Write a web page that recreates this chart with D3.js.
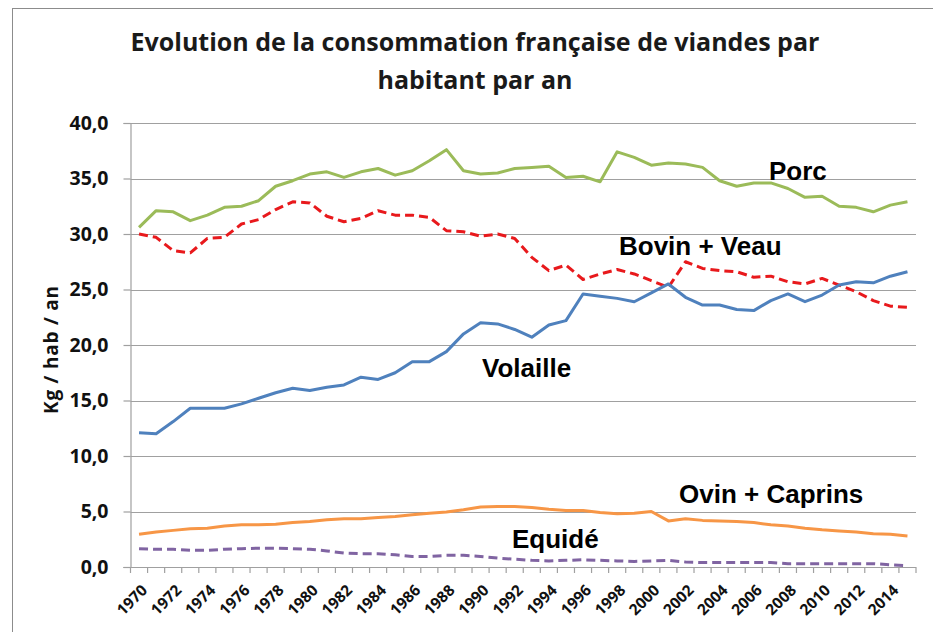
<!DOCTYPE html>
<html><head><meta charset="utf-8">
<script src="https://cdn.jsdelivr.net/npm/d3@7"></script>
<style>
html,body{margin:0;padding:0;background:#fff;}
svg{display:block;}
</style></head>
<body>
<svg id="chart" width="933" height="632"></svg>
<script>
const years = d3.range(1970, 2016);
const tickYears = d3.range(1970, 2015, 2);
const yTicks = [0,5,10,15,20,25,30,35,40];
const porc = [30.6,32.1,32.0,31.2,31.7,32.4,32.5,33.0,34.3,34.8,35.4,35.6,35.1,35.6,35.9,35.3,35.7,36.6,37.6,35.7,35.4,35.5,35.9,36.0,36.1,35.1,35.2,34.7,37.4,36.9,36.2,36.4,36.3,36.0,34.8,34.3,34.6,34.6,34.1,33.3,33.4,32.5,32.4,32.0,32.6,32.9];
const bovin = [30.0,29.7,28.5,28.3,29.6,29.7,30.9,31.3,32.2,32.9,32.8,31.6,31.1,31.4,32.1,31.7,31.7,31.5,30.3,30.2,29.8,30.0,29.6,27.9,26.7,27.2,25.9,26.4,26.8,26.4,25.8,25.2,27.5,26.9,26.7,26.6,26.1,26.2,25.7,25.5,26.0,25.4,24.8,24.0,23.5,23.4];
const volaille = [12.1,12.0,13.1,14.3,14.3,14.3,14.7,15.2,15.7,16.1,15.9,16.2,16.4,17.1,16.9,17.5,18.5,18.5,19.4,21.0,22.0,21.9,21.4,20.7,21.8,22.2,24.6,24.4,24.2,23.9,24.7,25.5,24.3,23.6,23.6,23.2,23.1,24.0,24.6,23.9,24.5,25.4,25.7,25.6,26.2,26.6];
const ovin = [2.95,3.15,3.3,3.45,3.5,3.7,3.8,3.8,3.85,4.0,4.1,4.25,4.35,4.35,4.45,4.55,4.7,4.85,4.95,5.15,5.4,5.45,5.45,5.35,5.2,5.1,5.1,4.9,4.8,4.85,5.0,4.15,4.35,4.2,4.15,4.1,4.0,3.8,3.7,3.5,3.35,3.25,3.15,3.0,2.95,2.8];
const equide = [1.65,1.6,1.6,1.5,1.5,1.6,1.65,1.7,1.7,1.65,1.6,1.45,1.25,1.2,1.2,1.1,0.95,0.95,1.05,1.05,0.95,0.8,0.7,0.6,0.55,0.6,0.65,0.6,0.55,0.5,0.55,0.6,0.45,0.4,0.4,0.4,0.4,0.4,0.3,0.3,0.3,0.3,0.3,0.3,0.2,0.12];
const seriesNames = ["Porc","Bovin + Veau","Volaille","Ovin + Caprins","Equidé"];
const titleLines = ["Evolution de la consommation française de viandes par","habitant par an"];
const yTitle = "Kg / hab / an";

const series = [
  {name: seriesNames[0], values: porc, color: "#9bbb59", dash: null, lx: 769, ly: 180},
  {name: seriesNames[1], values: bovin, color: "#e8191c", dash: "9,5", lx: 619, ly: 255},
  {name: seriesNames[2], values: volaille, color: "#4f81bd", dash: null, lx: 482, ly: 377},
  {name: seriesNames[3], values: ovin, color: "#f79646", dash: null, lx: 679, ly: 503},
  {name: seriesNames[4], values: equide, color: "#8064a2", dash: "9,5", lx: 512, ly: 548}
];

const svg = d3.select("#chart");
const pLeft = 130.5, pRight = 916, pTop = 123, pBottom = 567;

svg.append("rect").attr("x",12.5).attr("y",8.5).attr("width",940).attr("height",640)
  .attr("fill","#fff").attr("stroke","#8c8c8c").attr("stroke-width",1);

const x = d3.scaleBand().domain(years).range([pLeft, pRight]).padding(0);
const y = d3.scaleLinear().domain([0,40]).range([pBottom, pTop]);

// gridlines
svg.append("g").selectAll("line").data(yTicks.filter(d=>d>0)).join("line")
  .attr("x1", pLeft).attr("x2", pRight)
  .attr("y1", d=>Math.round(y(d))+0.5).attr("y2", d=>Math.round(y(d))+0.5)
  .attr("stroke","#a0a0a0").attr("stroke-width",1.2);

// y axis
const yAxis = svg.append("g").attr("transform",`translate(${pLeft},0)`)
  .call(d3.axisLeft(y).tickValues(yTicks).tickSize(7).tickPadding(15)
    .tickFormat(d=>d3.format(".1f")(d).replace(".",",")));
yAxis.select(".domain").attr("stroke","#a0a0a0").attr("stroke-width",1.2);
yAxis.selectAll(".tick line").attr("stroke","#a0a0a0").attr("stroke-width",1.2);
yAxis.selectAll(".tick text").attr("font-family","'Open Sans'").attr("font-weight",700)
  .attr("font-size",19.5).attr("fill","#111");

// x axis
const xg = svg.append("g").attr("transform",`translate(0,${pBottom})`);
xg.append("line").attr("x1",pLeft-7).attr("x2",pRight).attr("y1",0.5).attr("y2",0.5)
  .attr("stroke","#a0a0a0").attr("stroke-width",1.2);
const edges = years.map(d=>x(d)).concat([pRight]);
xg.selectAll("line.tk").data(edges).join("line").attr("class","tk")
  .attr("x1",d=>d).attr("x2",d=>d).attr("y1",0).attr("y2",6)
  .attr("stroke","#a0a0a0").attr("stroke-width",1.2);
xg.selectAll("text").data(tickYears).join("text")
  .attr("transform",d=>`translate(${x(d)+x.bandwidth()/2+5},${20}) rotate(-45)`)
  .attr("text-anchor","end").attr("dominant-baseline","central")
  .attr("font-family","'Open Sans'").attr("font-weight",700).attr("font-size",15.5)
  .attr("fill","#111").text(d=>d);

// lines
const line = d3.line().x((d,i)=>x(years[i])+x.bandwidth()/2).y(d=>y(d));
series.forEach(s=>{
  svg.append("path").datum(s.values).attr("d",line)
    .attr("fill","none").attr("stroke",s.color).attr("stroke-width",3)
    .attr("stroke-linejoin","round")
    .attr("stroke-dasharray",s.dash);
});

// series labels
svg.append("g").selectAll("text").data(series).join("text")
  .attr("x",d=>d.lx).attr("y",d=>d.ly)
  .attr("font-family","'Liberation Sans', Arial").attr("font-weight",700).attr("font-size",26)
  .attr("fill","#000").text(d=>d.name);

// title
svg.append("g").selectAll("text").data(titleLines).join("text")
  .attr("x",475).attr("y",(d,i)=>51+i*38).attr("text-anchor","middle")
  .attr("font-family","'Open Sans'").attr("font-weight",700).attr("font-size",25)
  .attr("fill","#1a1a1a").text(d=>d);

// y title
svg.append("text").attr("transform","translate(51,350) rotate(-90)")
  .attr("text-anchor","middle").attr("dominant-baseline","central")
  .attr("textLength",128).attr("lengthAdjust","spacing")
  .attr("font-family","'Open Sans'").attr("font-weight",700).attr("font-size",19)
  .attr("fill","#111").text(yTitle);
</script>
</body></html>
